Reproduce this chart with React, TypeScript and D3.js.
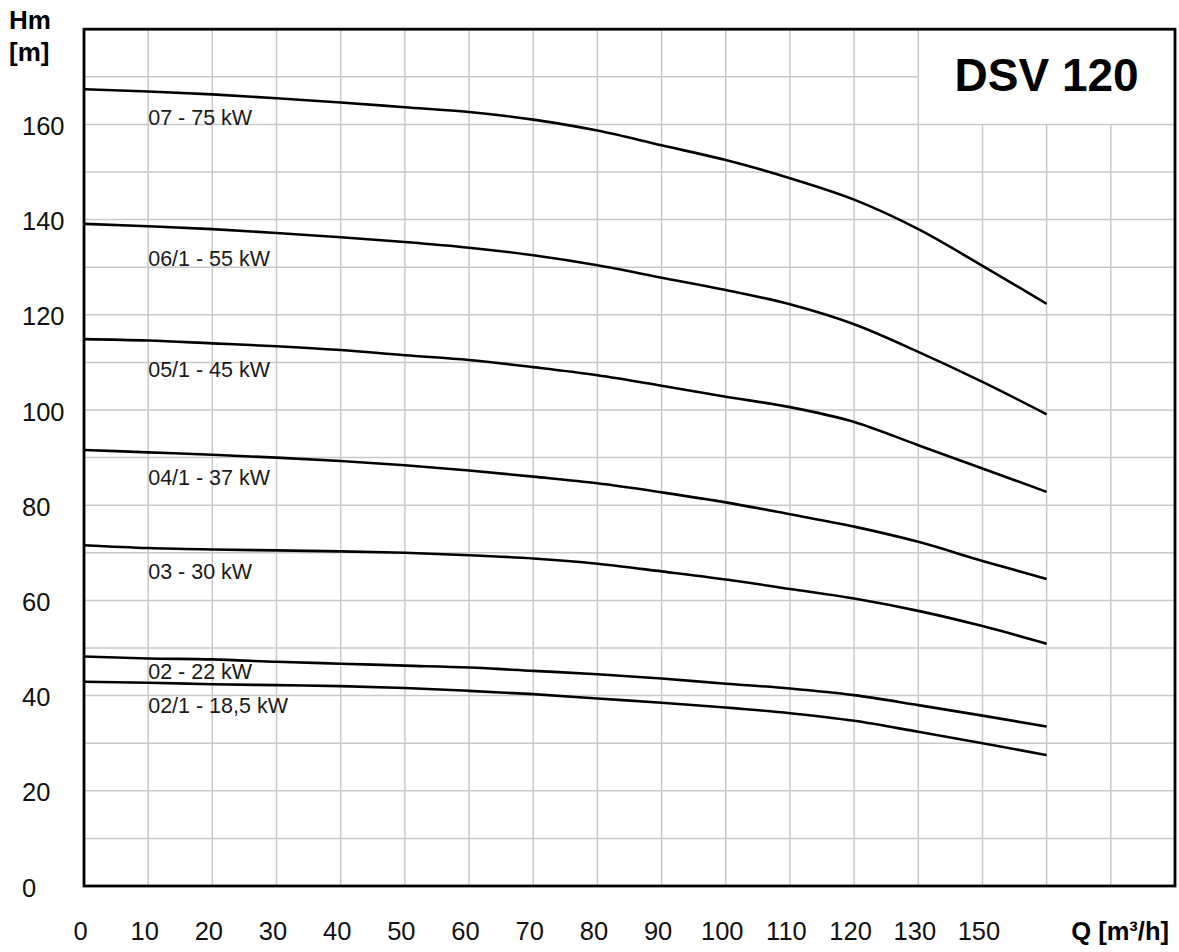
import { useEffect, useRef } from 'react';
import * as d3 from 'd3';

// flow rate Q [m3/h], head Hm [m] per pump model
const flow = [0, 10, 20, 30, 40, 50, 60, 70, 80, 90, 100, 110, 120, 130, 140, 150];

const curveNames = [
  '07 - 75 kW',
  '06/1 - 55 kW',
  '05/1 - 45 kW',
  '04/1 - 37 kW',
  '03 - 30 kW',
  '02 - 22 kW',
  '02/1 - 18,5 kW',
];

const head07 = [167.4, 166.9, 166.3, 165.5, 164.6, 163.6, 162.6, 161.0, 158.7, 155.6, 152.5, 148.7, 144.2, 138.0, 130.3, 122.3];
const head061 = [139.1, 138.6, 138.0, 137.2, 136.3, 135.3, 134.1, 132.5, 130.4, 127.8, 125.2, 122.2, 118.0, 112.2, 105.9, 99.1];
const head051 = [114.9, 114.6, 114.0, 113.4, 112.6, 111.5, 110.5, 109.0, 107.3, 105.1, 102.8, 100.6, 97.5, 92.6, 87.7, 82.8];
const head041 = [91.6, 91.1, 90.6, 90.0, 89.3, 88.4, 87.3, 86.0, 84.6, 82.7, 80.6, 78.1, 75.5, 72.3, 68.3, 64.5];
const head03 = [71.6, 71.0, 70.7, 70.5, 70.3, 70.0, 69.5, 68.8, 67.7, 66.1, 64.4, 62.4, 60.4, 57.8, 54.6, 50.9];
const head02 = [48.2, 47.8, 47.6, 47.1, 46.7, 46.3, 45.9, 45.2, 44.5, 43.6, 42.5, 41.5, 40.1, 38.0, 35.8, 33.5];
const head021 = [42.9, 42.7, 42.4, 42.2, 42.0, 41.6, 41.0, 40.3, 39.4, 38.5, 37.5, 36.3, 34.7, 32.4, 30.0, 27.5];

// where each curve label sits (Q, Hm of the text baseline)
const labelQ = 10;
const labelHead = [159.9, 130.3, 106.9, 84.2, 64.5, 43.5, 36.4];

const yTicks = [0, 20, 40, 60, 80, 100, 120, 140, 160];
// the original sheet skips 140 on the Q axis
const xTickLabels = ['0', '10', '20', '30', '40', '50', '60', '70', '80', '90', '100', '110', '120', '130', '150'];

const title = 'DSV 120';

export default function App() {
  const svgRef = useRef<SVGSVGElement>(null);

  useEffect(() => {
    if (!svgRef.current) return;
    const width = 1179;
    const height = 952;
    const svg = d3.select(svgRef.current);
    svg.selectAll('*').remove();
    svg
      .attr('width', width)
      .attr('height', height)
      .style('font-family', '"Liberation Sans", Arial, sans-serif');

    const x = d3.scaleLinear().domain([0, 170]).range([84, 1175]);
    const y = d3.scaleLinear().domain([0, 180]).range([886, 29.2]);

    const gridColor = '#c9c9c9';
    const grid = svg.append('g');

    // title box covers Q 130..170, Hm 160..180
    const boxQ = 130;
    const boxH = 160;

    const vLines = d3.range(10, 170, 10);
    grid.selectAll('line.v')
      .data(vLines)
      .join('line')
      .attr('class', 'v')
      .attr('x1', d => x(d))
      .attr('x2', d => x(d))
      .attr('y1', y(0))
      .attr('y2', d => (d > boxQ ? y(boxH) : y(180)))
      .attr('stroke', gridColor)
      .attr('stroke-width', 1.5);

    const hLines = d3.range(10, 180, 10);
    grid.selectAll('line.h')
      .data(hLines)
      .join('line')
      .attr('class', 'h')
      .attr('x1', x(0))
      .attr('x2', d => (d > boxH ? x(boxQ) : x(170)))
      .attr('y1', d => y(d))
      .attr('y2', d => y(d))
      .attr('stroke', gridColor)
      .attr('stroke-width', 1.5);

    const series = [head07, head061, head051, head041, head03, head02, head021];

    const line = d3.line<number>()
      .x((d, i) => x(flow[i]))
      .y(d => y(d))
      .curve(d3.curveMonotoneX);

    svg.append('g')
      .selectAll('path')
      .data(series)
      .join('path')
      .attr('d', d => line(d))
      .attr('fill', 'none')
      .attr('stroke', '#000')
      .attr('stroke-width', 2.6);

    svg.append('g')
      .selectAll('text')
      .data(curveNames)
      .join('text')
      .attr('x', x(labelQ))
      .attr('y', (d, i) => y(labelHead[i]))
      .attr('font-size', 21.5)
      .attr('fill', '#1a1a1a')
      .text(d => d);

    // frame
    svg.append('rect')
      .attr('x', x(0))
      .attr('y', y(180))
      .attr('width', x(170) - x(0))
      .attr('height', y(0) - y(180))
      .attr('fill', 'none')
      .attr('stroke', '#000')
      .attr('stroke-width', 2.8);

    svg.append('text')
      .attr('x', (x(boxQ) + x(170)) / 2)
      .attr('y', y(180) + 61.5)
      .attr('text-anchor', 'middle')
      .attr('font-size', 46)
      .attr('font-weight', 'bold')
      .text(title);

    // y axis labels
    svg.append('g')
      .selectAll('text')
      .data(yTicks)
      .join('text')
      .attr('x', 22)
      .attr('y', d => y(d) + 10.5)
      .attr('font-size', 25.5)
      .attr('fill', '#111')
      .text(d => d);

    svg.append('g')
      .selectAll('text')
      .data(xTickLabels)
      .join('text')
      .attr('x', (d, i) => x(i * 10) - 3.5)
      .attr('y', 940)
      .attr('text-anchor', 'middle')
      .attr('font-size', 25.5)
      .attr('fill', '#111')
      .text(d => d);

    svg.append('text')
      .attr('x', 9)
      .attr('y', 28.5)
      .attr('font-size', 26)
      .attr('font-weight', 'bold')
      .text('Hm');
    svg.append('text')
      .attr('x', 9)
      .attr('y', 61)
      .attr('font-size', 26)
      .attr('font-weight', 'bold')
      .text('[m]');

    svg.append('text')
      .attr('x', 1169)
      .attr('y', 940)
      .attr('text-anchor', 'end')
      .attr('font-size', 25.5)
      .attr('font-weight', 'bold')
      .text('Q [m³/h]');
  }, []);

  return (
    <div style={{ position: 'absolute', left: 0, top: 0, background: '#fff' }}>
      <svg ref={svgRef} style={{ display: 'block' }} />
    </div>
  );
}
